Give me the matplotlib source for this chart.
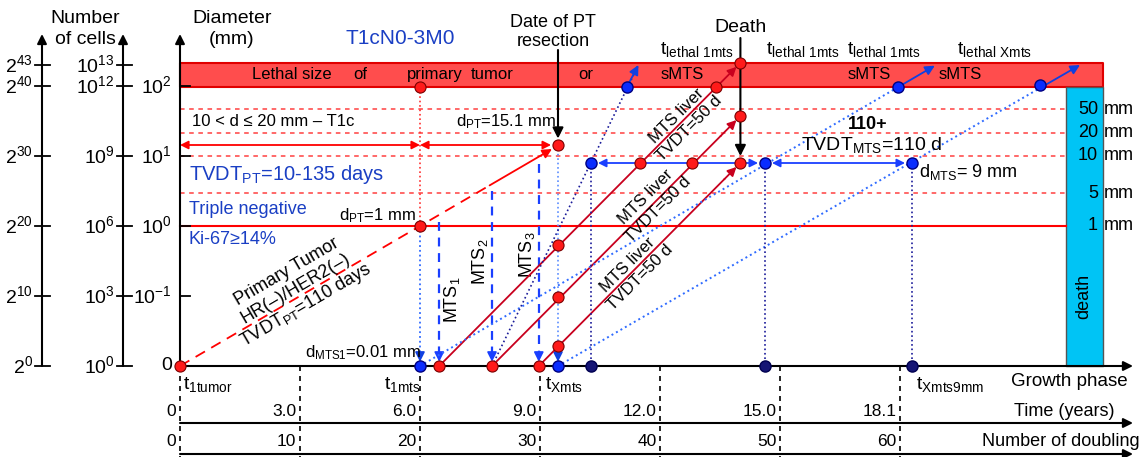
import numpy as np
import matplotlib.pyplot as plt

plt.rcParams['font.family'] = ['Liberation Sans', 'DejaVu Sans']
plt.rcParams['mathtext.default'] = 'regular'

# vertical scale = number of doublings (log2 of the cell count)
cell_doublings = [0, 10, 20, 30, 40, 43]
pow2_labels = ['$2^{0}$', '$2^{10}$', '$2^{20}$', '$2^{30}$', '$2^{40}$', '$2^{43}$']
pow10_labels = ['$10^{0}$', '$10^{3}$', '$10^{6}$', '$10^{9}$', '$10^{12}$', '$10^{13}$']
diam_doublings = [0, 10, 20, 30, 40]
diam_labels = ['0', '$10^{-1}$', '$10^{0}$', '$10^{1}$', '$10^{2}$']

# horizontal scale = number of doublings / time
doubling_marks = [0, 10, 20, 30, 40, 50, 60]
time_years = ['0', '3.0', '6.0', '9.0', '12.0', '15.0', '18.1']

# size levels (mm) and where they sit on the doubling scale
level_mm = [50, 20, 10, 5, 1]
level_y = [36.7, 33.3, 30.0, 24.7, 20.0]
lethal_y = [39.9, 43.3]
death_x = [73.8, 76.9]

# primary tumour
pt_x = [0, 20, 31.5]
pt_y = [0, 20, 31.5]
pt_lethal = (20, 39.9)

# liver metastases (TVDT = 50 d)
mts_x0 = [21.6, 26.0, 29.9]
mts_x1 = [46.7, 46.7, 46.7]
mts_y1 = [43.3, 35.7, 29.0]
mts_dots_x = [31.5, 31.5, 31.5, 38.3, 42.7, 44.7]
mts_dots_y = [17.3, 9.9, 2.9, 29.0, 29.0, 39.9]

# other metastases (TVDT = 110 d)
smts_x0 = [20.0, 31.5]
smts_x1 = [62.9, 75.0]
smts_y1 = [42.9, 43.0]
smts_lethal_x = [59.8, 71.7]
steep_x = [26.0, 38.2]
steep_y = [0.0, 43.0]
row9_x = [34.25, 48.75, 61.0]
row9_y = 29.0
blue_lethal = (37.25, 39.9)

fig = plt.figure(figsize=(11.43, 4.57), dpi=100)
ax = fig.add_axes([0, 0, 1, 1])
ax.set_xlim(-15, 80.25)
ax.set_ylim(-13, 366 / 7)
ax.axis('off')


def P(px, py):
    return ((px - 180) / 12, (366 - py) / 7)


def arrow(x0, y0, x1, y1, color='k', style='-|>', lw=1.3, ms=12, sa=0, sb=0):
    ax.annotate('', xy=(x1, y1), xytext=(x0, y0),
                arrowprops=dict(arrowstyle=style, color=color, lw=lw,
                                mutation_scale=ms, shrinkA=sa, shrinkB=sb))


RED = '#ff1a1a'
DRED = '#c8001e'
BLUE = '#2f6bff'
NAVY = '#1a1a99'
TBLUE = '#1a3fc4'

# lethal band and death bar
ax.fill_between([0, death_x[1]], lethal_y[0], lethal_y[1], color='#ff4d4d',
                edgecolor='#e00000', lw=1.5, zorder=1)
ax.fill_between(death_x, 0, lethal_y[0], color='#00c4f5', edgecolor='#555555',
                lw=1, zorder=1)
ax.text(np.mean(death_x), 10, 'death', rotation=90, ha='center', va='center', fontsize=13)
band_words = ['Lethal size', 'of', 'primary', 'tumor', 'or', 'sMTS', 'sMTS', 'sMTS']
band_px = [292, 360, 435, 492, 586, 682, 869, 960]
for w, px in zip(band_words, band_px):
    ax.text(P(px, 0)[0], np.mean(lethal_y), w, ha='center', va='center', fontsize=12)

# size levels
for mm, y in zip(level_mm, level_y):
    if mm == 1:
        ax.plot([0, death_x[0]], [y, y], color='#ff0000', lw=1.5, zorder=2)
    else:
        ax.plot([0, death_x[0]], [y, y], color='#ff4040', lw=1.1, ls=(0, (3, 3)), zorder=2)
    ax.text(P(1098, 0)[0], y, str(mm), ha='right', va='center', fontsize=13)
    ax.text(P(1104, 0)[0], y, 'mm', ha='left', va='center', fontsize=13)

# vertical axes
for ax_x, labels, t0, t1 in [(P(42, 0)[0], pow2_labels, P(35, 0)[0], P(50, 0)[0]),
                             (P(123, 0)[0], pow10_labels, P(117, 0)[0], P(132, 0)[0])]:
    arrow(ax_x, 0, ax_x, P(0, 34)[1], lw=1.5, ms=14)
    for y, lab in zip(cell_doublings, labels):
        ax.plot([t0, t1], [y, y], color='k', lw=1.3)
        ax.text(t0 - 0.2, y, lab, ha='right', va='center', fontsize=14)
arrow(0, 0, 0, P(0, 34)[1], lw=1.5, ms=14)
for y, lab in zip(diam_doublings, diam_labels):
    ax.plot([0, P(190, 0)[0]], [y, y], color='k', lw=1.3)
    ax.text(P(172, 0)[0], y, lab, ha='right', va='center', fontsize=14)

# bottom axes
for py in [366, 423, 454]:
    arrow(0, P(0, py)[1], P(1133, 0)[0], P(0, py)[1], lw=1.5, ms=14)
for d, t in zip(doubling_marks, time_years):
    ax.plot([d, d], [0, -13], color='k', lw=1.2, ls=(0, (3, 3)))
    ax.text(d - 0.3, P(0, 411)[1], t, ha='right', va='center', fontsize=12.5)
    ax.text(d - 0.3, P(0, 441)[1], str(d), ha='right', va='center', fontsize=12.5)
ax.text(*P(1128, 381), 'Growth phase', ha='right', va='center', fontsize=13.5)
ax.text(*P(1115, 411), 'Time (years)', ha='right', va='center', fontsize=13)
ax.text(*P(1140, 441), 'Number of doubling', ha='right', va='center', fontsize=13)
ax.text(*P(183, 384), '$t_{1tumor}$', ha='left', va='center', fontsize=14)
ax.text(*P(384, 384), '$t_{1mts}$', ha='left', va='center', fontsize=14)
ax.text(*P(545, 384), '$t_{Xmts}$', ha='left', va='center', fontsize=14)
ax.text(*P(916, 384), '$t_{Xmts9mm}$', ha='left', va='center', fontsize=14)

# primary tumour growth
ax.plot([pt_x[0], 25.8], [pt_y[0], 25.8], color='#ff0000', lw=1.3, ls=(0, (6, 4)), zorder=3)
arrow(25.8, 25.8, pt_x[2], pt_y[2], color='#ff0000', lw=1.3, ms=14, sb=5)
ax.plot([pt_x[1], pt_lethal[0]], [pt_y[1], pt_lethal[1]], color='#ff3030', lw=1.2, ls=':', zorder=3)
ax.plot([pt_x[1], pt_x[1]], [pt_y[1], 1.0], color=BLUE, lw=1.3, ls=':', zorder=3)
arrow(pt_x[1], 1.8, pt_x[1], 0, color='#1040e0', ms=14, sb=3)
ax.plot([pt_x[2], pt_x[2]], [pt_y[2], 1.0], color='#5a8cff', lw=1.2, ls=':', zorder=3)
arrow(pt_x[2], 1.8, pt_x[2], 0, color='#1040e0', ms=14, sb=3)
y_arr = P(0, 145)[1]
arrow(pt_x[1], y_arr, pt_x[0], y_arr, color='#ff0000', style='<|-|>', ms=12)
arrow(pt_x[1], y_arr, pt_x[2], y_arr, color='#ff0000', style='<|-|>', ms=12, sb=5)
ax.plot(pt_x + [pt_lethal[0]], pt_y + [pt_lethal[1]], 'o', ms=8, mfc=RED, mec='#7a0000',
        mew=0.8, zorder=6)

# seeding of MTS1-3 (dashed blue arrows)
for x in mts_x0:
    ax.plot([x, x], [x - 1, 1.2], color='#1a3fff', lw=1.6, ls=(0, (4, 3)), zorder=3)
    arrow(x, 1.8, x, 0, color='#1a3fff', ms=14, sb=3)
ax.text(*P(452, 300), '$MTS_1$', rotation=90, ha='center', va='center', fontsize=13)
ax.text(*P(480, 262), '$MTS_2$', rotation=90, ha='center', va='center', fontsize=13)
ax.text(*P(527, 255), '$MTS_3$', rotation=90, ha='center', va='center', fontsize=13)

# liver metastases
for x0, x1, y1 in zip(mts_x0, mts_x1, mts_y1):
    k = 0.92
    ax.plot([x0, x0 + k * (x1 - x0)], [0, k * y1], color=DRED, lw=1.3, zorder=3)
    arrow(x0 + k * (x1 - x0), k * y1, x1, y1, color=DRED, ms=13, sb=4)
ax.plot(mts_x0 + mts_x1 + mts_dots_x, [0, 0, 0] + mts_y1 + mts_dots_y, 'o', ms=8, mfc=RED,
        mec='#7a0000', mew=0.8, zorder=6)
for px, py in [(683, 122), (652, 203), (634, 271)]:
    ax.text(*P(px, py), 'MTS liver\nTVDT=50 d', rotation=45, ha='center', va='center',
            fontsize=12, linespacing=1.2, rotation_mode='anchor')

# other metastases, TVDT = 110 d
for x0, x1, y1, xl in zip(smts_x0, smts_x1, smts_y1, smts_lethal_x):
    k = 0.93
    ax.plot([x0, x0 + k * (x1 - x0)], [0, k * y1], color=BLUE, lw=1.4, ls=':', zorder=3)
    arrow(x0 + k * (x1 - x0), k * y1, x1, y1, color='#1040e0', ms=14)
    ax.plot([xl], [xl - x0], 'o', ms=8, mfc='#0a2cff', mec='#000080', zorder=6)
ax.plot(steep_x, steep_y, color=NAVY, lw=1.2, ls=':', zorder=3)
arrow(blue_lethal[0], blue_lethal[1], steep_x[1], steep_y[1], color='#1040e0', ms=14)
ax.plot([blue_lethal[0]], [blue_lethal[1]], 'o', ms=8, mfc='#0a2cff', mec='#000080', zorder=6)
for x in row9_x:
    ax.plot([x, x], [row9_y, 0], color=NAVY, lw=1.2, ls=':', zorder=3)
ax.plot(row9_x, [row9_y] * 3, 'o', ms=8, mfc='#0a2cff', mec='#000080', zorder=6)
ax.plot(row9_x, [0] * 3, 'o', ms=8, mfc='#151575', mec='#000050', zorder=6)
ax.plot([pt_x[1], pt_x[2]], [0, 0], 'o', ms=8, mfc='#0a2cff', mec='#000080', zorder=6)
arrow(row9_x[0], row9_y, row9_x[1], row9_y, color='#1a3fff', style='<|-|>', ms=12, sa=5, sb=5)
arrow(row9_x[1], row9_y, row9_x[2], row9_y, color='#1a3fff', style='<|-|>', ms=12, sa=5, sb=5)

# black arrows
arrow(pt_x[2], P(0, 50)[1], pt_x[2], pt_y[2], lw=1.5, ms=16, sb=5)
arrow(mts_x1[0], P(0, 38)[1], mts_x1[0], row9_y, lw=1.5, ms=16, sb=5)

# texts
ax.text(*P(85, 29), 'Number\nof cells', ha='center', va='center', fontsize=14, linespacing=1.25)
ax.text(*P(232, 29), 'Diameter\n(mm)', ha='center', va='center', fontsize=14, linespacing=1.25)
ax.text(*P(400, 38), 'T1cN0-3M0', ha='center', va='center', fontsize=15, color=TBLUE)
ax.text(*P(553, 32), 'Date of PT\nresection', ha='center', va='center', fontsize=13,
        linespacing=1.1)
ax.text(*P(741, 28), 'Death', ha='center', va='center', fontsize=14)
for px, s in [(697, '$t_{lethal\\ 1mts}$'), (803, '$t_{lethal\\ 1mts}$'),
              (884, '$t_{lethal\\ 1mts}$'), (995, '$t_{lethal\\ Xmts}$')]:
    ax.text(*P(px, 50), s, ha='center', va='center', fontsize=14)
ax.text(*P(192, 122), '10 < d \u2264 20 mm \u2013 T1c', ha='left', va='center', fontsize=12)
ax.text(*P(189, 174), 'TVDT$_{PT}$=10-135 days', ha='left', va='center', fontsize=14.5,
        color=TBLUE)
ax.text(*P(189, 210), 'Triple negative', ha='left', va='center', fontsize=13, color=TBLUE)
ax.text(*P(189, 240), 'Ki-67\u226514%', ha='left', va='center', fontsize=13, color=TBLUE)
ax.text(*P(416, 216), 'd$_{PT}$=1 mm', ha='right', va='center', fontsize=12)
ax.text(*P(456, 122), 'd$_{PT}$=15.1 mm', ha='left', va='center', fontsize=12)
ax.text(*P(305, 353), 'd$_{MTS1}$=0.01 mm', ha='left', va='center', fontsize=12)
ax.text(*P(297, 290), 'Primary Tumor\nHR(\u2013)/HER2(\u2013)\nTVDT$_{PT}$=110 days',
        rotation=30.3, ha='center', va='center', fontsize=13, linespacing=1.1,
        rotation_mode='anchor')
ax.text(*P(868, 125), '110+', ha='center', va='center', fontsize=13, fontweight='bold')
ax.text(*P(872, 145), 'TVDT$_{MTS}$=110 d', ha='center', va='center', fontsize=14)
ax.text(*P(919, 172), 'd$_{MTS}$= 9 mm', ha='left', va='center', fontsize=13)

fig.savefig('out.png', dpi=100)
